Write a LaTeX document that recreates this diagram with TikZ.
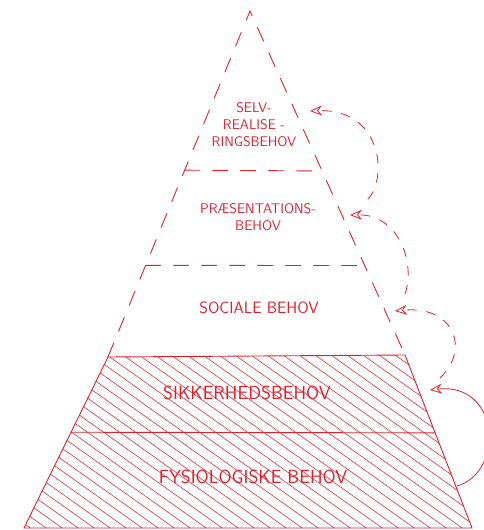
\documentclass[tikz,border=0pt]{standalone}
\usepackage{fontspec}
\usetikzlibrary{arrows.meta,calc}
\definecolor{pen}{RGB}{226,32,44}

\begin{document}
\begin{tikzpicture}[x=1pt, y=-1pt, line cap=round,
    side/.style={pen, line width=0.9pt},
    gap/.style={side, dash pattern=on 15pt off 13pt},
    hatch/.style={pen, line width=0.55pt},
    lbl/.style={text=pen, font=\sffamily\fontsize{14}{17}\selectfont, align=center},
    mid/.style={lbl, font=\sffamily\fontsize{16.5}{20}\selectfont},
    big/.style={lbl, font=\sffamily\fontsize{19}{22}\selectfont},
    up/.style={pen, line width=0.8pt, -{Stealth[open, length=12pt, width=10pt]}},
    upgap/.style={up, dash pattern=on 9pt off 10pt}]
  \useasboundingbox (0,0) rectangle (483,530);
  % corners of the pyramid
  \coordinate (apex) at (250,11);
  \coordinate (tl) at (108,357);
  \coordinate (tr) at (405,355);
  \coordinate (bl) at (24,528);
  \coordinate (br) at (472,528);
  % hatching of the two lower levels
  \begin{scope}
    \clip (tl) -- (tr) -- (br) -- (bl) -- cycle;
    \foreach \x in {-300,-284,...,480}
      \draw[hatch] (\x,350) -- ++(260,185);
  \end{scope}
  \draw[side] (tl) -- (tr) -- (br) -- (bl) -- cycle;
  \draw[side] ($(tl)!0.44!(bl)$) -- ($(tr)!0.45!(br)$);
  % dashed upper part
  \draw[gap] (tl) -- (apex) -- (tr);
  \draw[gap] ($(apex)!0.735!(tl)$) -- ($(apex)!0.74!(tr)$);
  \draw[gap] ($(apex)!0.46!(tl)$) -- ($(apex)!0.465!(tr)$);
  % levels
  \node[lbl] (selv) at (254,125) {SELV-\\REALISE -\\RINGSBEHOV};
  \node[lbl] (praes) at (258,217) {PRÆSENTATIONS-\\BEHOV};
  \node[mid] (social) at (259,308) {SOCIALE BEHOV};
  \node[big] (sikker) at (247,393) {SIKKERHEDSBEHOV};
  \node[big] (fysio) at (253,477) {FYSIOLOGISKE BEHOV};
  % ends of the arrows
  \coordinate (fysio-out) at (457,486);
  \coordinate (sikker-in) at (430,390);
  \coordinate (sikker-out) at (440,378);
  \coordinate (social-in) at (395,311);
  \coordinate (social-out) at (405,294);
  \coordinate (praes-in) at (350,215);
  \coordinate (praes-out) at (368,199);
  \coordinate (selv-in) at (310,111);
  \draw[up] (fysio-out) .. controls (505,472) and (500,382) .. (sikker-in);
  \draw[upgap] (sikker-out) .. controls (470,350) and (455,305) .. (social-in);
  \draw[upgap] (social-out) .. controls (416,262) and (398,214) .. (praes-in);
  \draw[upgap] (praes-out) .. controls (388,178) and (382,108) .. (selv-in);
\end{tikzpicture}
\end{document}
